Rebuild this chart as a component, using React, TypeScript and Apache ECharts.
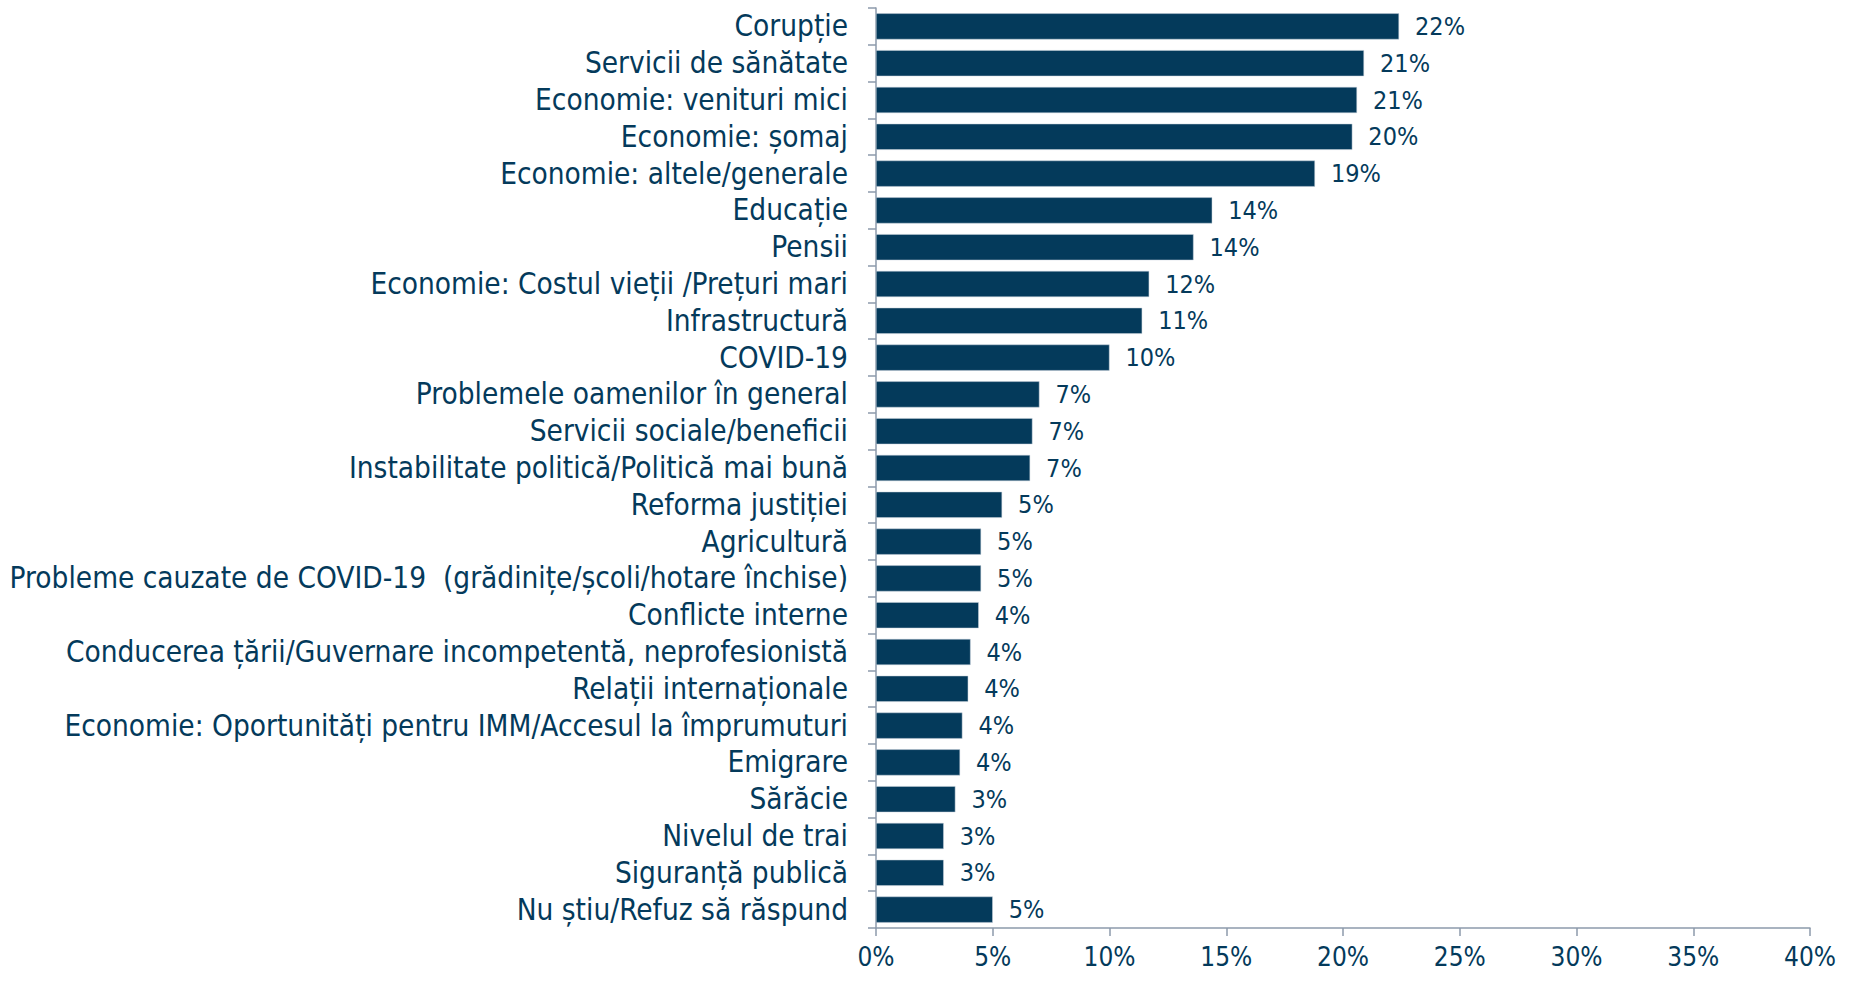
import React, { useEffect, useRef } from "react";
import * as echarts from "echarts";

const categories = [
  "Corupție",
  "Servicii de sănătate",
  "Economie: venituri mici",
  "Economie: șomaj",
  "Economie: altele/generale",
  "Educație",
  "Pensii",
  "Economie: Costul vieții /Prețuri mari",
  "Infrastructură",
  "COVID-19",
  "Problemele oamenilor în general",
  "Servicii sociale/beneficii",
  "Instabilitate politică/Politică mai bună",
  "Reforma justiției",
  "Agricultură",
  "Probleme cauzate de COVID-19  (grădinițe/școli/hotare închise)",
  "Conflicte interne",
  "Conducerea țării/Guvernare incompetentă, neprofesionistă",
  "Relații internaționale",
  "Economie: Oportunități pentru IMM/Accesul la împrumuturi",
  "Emigrare",
  "Sărăcie",
  "Nivelul de trai",
  "Siguranță publică",
  "Nu știu/Refuz să răspund",
];

const values = [
  22.4, 20.9, 20.6, 20.4, 18.8, 14.4, 13.6, 11.7, 11.4, 10.0, 7.0, 6.7, 6.6, 5.4, 4.5,
  4.5, 4.4, 4.05, 3.95, 3.7, 3.6, 3.4, 2.9, 2.9, 5.0,
];

const xTicks = [0, 5, 10, 15, 20, 25, 30, 35, 40];

const NAVY = "#043a5b";
const AXIS = "#8c9aab";
const FONT = "'DejaVu Sans Condensed', 'DejaVu Sans', sans-serif";

export default function App() {
  const ref = useRef<HTMLDivElement>(null);
  useEffect(() => {
    if (!ref.current) return;
    const chart = echarts.init(ref.current, null, { renderer: "svg" });
    chart.setOption({
      animation: false,
      grid: { left: 876, right: 42, top: 8, bottom: 53, containLabel: false },
      xAxis: {
        type: "value",
        min: xTicks[0],
        max: xTicks[xTicks.length - 1],
        interval: 5,
        axisLine: { show: true, lineStyle: { color: AXIS, width: 1.5 } },
        axisTick: { show: true, length: 8, lineStyle: { color: AXIS, width: 1.5 } },
        splitLine: { show: false },
        axisLabel: {
          formatter: (v: number) => v + "%",
          color: NAVY,
          fontFamily: FONT,
          fontSize: 26,
          margin: 16,
        },
      },
      yAxis: {
        type: "category",
        inverse: true,
        data: categories,
        axisLine: { show: true, lineStyle: { color: AXIS, width: 1.5 } },
        axisTick: { show: true, length: 8, interval: 0, lineStyle: { color: AXIS, width: 1.5 } },
        axisLabel: {
          interval: 0,
          hideOverlap: false,
          color: NAVY,
          fontFamily: FONT,
          fontSize: 29.5,
          margin: 28,
        },
      },
      series: [
        {
          type: "bar",
          data: values,
          barCategoryGap: "29%",
          itemStyle: { color: NAVY, borderColor: "#c8d3dd", borderWidth: 0.5 },
          label: {
            show: true,
            position: "right",
            distance: 16,
            color: NAVY,
            fontFamily: FONT,
            fontSize: 25,
            formatter: (p: any) => Math.round(p.value) + "%",
          },
        },
      ],
    });
    return () => chart.dispose();
  }, []);
  return (
    <div
      ref={ref}
      style={{ position: "fixed", left: 0, top: 0, width: 1852, height: 981, background: "#fff" }}
    />
  );
}
